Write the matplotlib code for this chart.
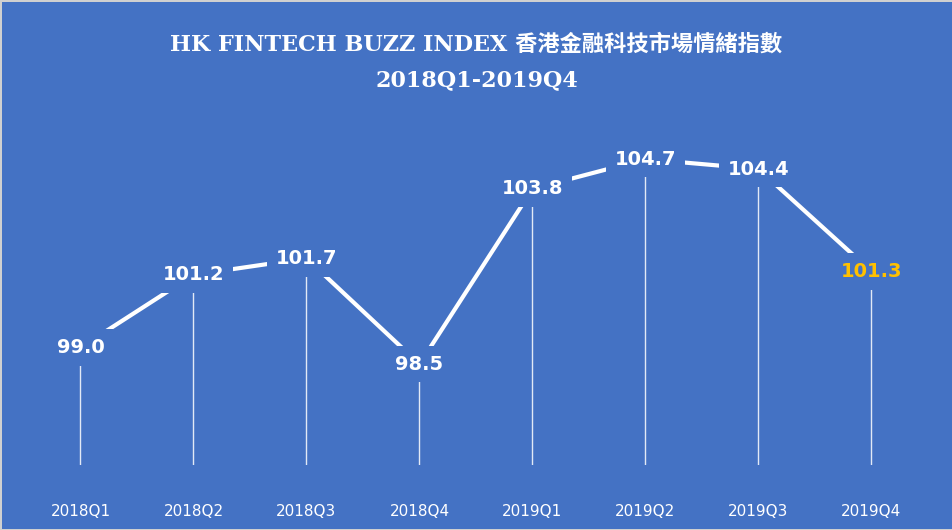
import matplotlib.pyplot as plt

quarters = ['2018Q1', '2018Q2', '2018Q3', '2018Q4', '2019Q1', '2019Q2', '2019Q3', '2019Q4']
values = [99.0, 101.2, 101.7, 98.5, 103.8, 104.7, 104.4, 101.3]
label_colors = ['white'] * 7 + ['#FFC000']

bg = '#4472C4'
fig = plt.figure(figsize=(9.53, 5.30), dpi=100, facecolor=bg, edgecolor='#D0D0D0', linewidth=2)
ax = fig.add_axes([24 / 953, (530 - 465) / 530, 904 / 953, 415 / 530])
ax.set_facecolor(bg)
x = list(range(len(quarters)))

ax.vlines(x, 95.45, values, color='white', linewidth=1, alpha=0.85, zorder=1)
ax.plot(x, values, color='white', linewidth=3, solid_capstyle='round', zorder=2)
for xi, v, c in zip(x, values, label_colors):
    ax.text(xi, v, f'{v:.1f}', ha='center', va='center', color=c, fontsize=14,
            fontweight='bold', zorder=3,
            bbox=dict(boxstyle='square,pad=0.45', facecolor=bg, edgecolor='none'))

ax.set_xlim(-0.5, 7.5)
ax.set_ylim(95.45, 108)
for s in ax.spines.values():
    s.set_visible(False)
ax.set_yticks([])
ax.set_xticks(x)
ax.set_xticklabels(quarters, color='white', fontsize=11)
ax.tick_params(axis='x', length=0, pad=28)

fig.text(0.5, 1 - 45 / 530, 'HK FINTECH BUZZ INDEX 香港金融科技市場情緒指數', ha='center', va='center',
         color='white', fontsize=16, fontweight='bold', family=['DejaVu Serif', 'Noto Sans CJK TC'])
fig.text(0.5, 1 - 80 / 530, '2018Q1-2019Q4', ha='center', va='center',
         color='white', fontsize=16, fontweight='bold', family=['DejaVu Serif'])

fig.savefig('out.png', facecolor=bg, edgecolor=fig.get_edgecolor())
